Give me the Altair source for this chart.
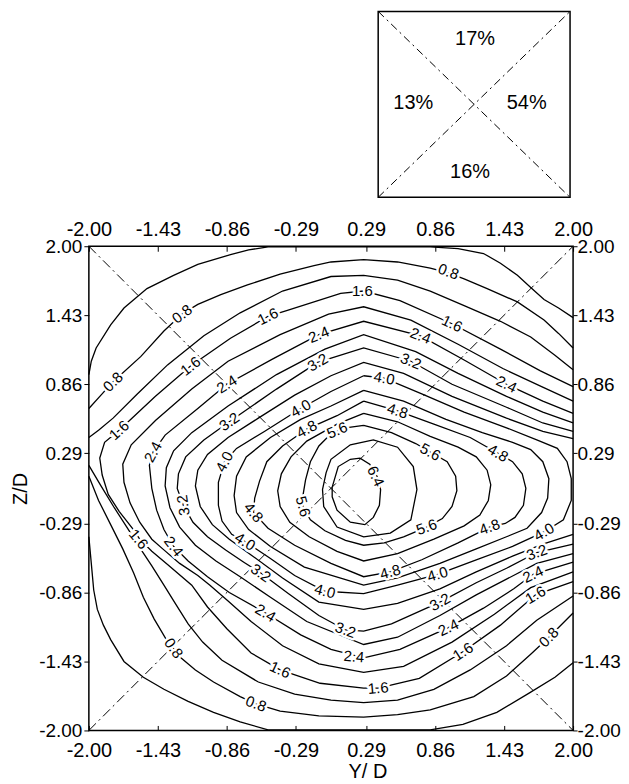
import altair as alt
import pandas as pd

FONT = "Liberation Sans"

# ---------------- axis ticks (Y/D and Z/D) ----------------
TICKS = [-2.00, -1.43, -0.86, -0.29, 0.29, 0.86, 1.43, 2.00]

# ---------------- inset: share of flow per quadrant ----------------
# extent of the inset square, read in the units of the main axes (it sits above the plot)
INSET_BOX_Y = [0.39, 1.975]
INSET_BOX_Z = [2.404, 3.94]
INSET_TEXT = ["17%", "13%", "54%", "16%"]
INSET_FX = [0.505, 0.183, 0.774, 0.479]   # position inside the square (fraction of width)
INSET_FZ = [0.853, 0.507, 0.507, 0.135]   # position inside the square (fraction of height)

# ---------------- main plot diagonals ----------------
DIAG_A = [(-2.0, 2.0), (2.0, -2.0)]
DIAG_B = [(-2.0, -2.0), (2.0, 2.0)]

# ---------------- contour lines (Y/D, Z/D) ----------------
C04_UPPER = [(2.00, 1.41), (1.88, 1.49), (1.76, 1.56), (1.65, 1.66), (1.54, 1.76), (1.40, 1.86),
             (1.26, 1.94), (1.05, 1.98), (0.82, 1.995), (0.30, 1.995), (-0.52, 1.995), (-0.68, 1.97),
             (-0.83, 1.93), (-1.10, 1.85), (-1.30, 1.76), (-1.52, 1.65), (-1.71, 1.49), (-1.82, 1.35),
             (-1.94, 1.16), (-1.98, 1.05), (-2.00, 0.94)]
C04_LOWER = [(-2.00, -0.40), (-1.98, -0.62), (-1.96, -0.84), (-1.93, -1.00), (-1.88, -1.13),
             (-1.82, -1.25), (-1.71, -1.43), (-1.55, -1.56), (-1.38, -1.66), (-1.18, -1.76),
             (-0.97, -1.85), (-0.75, -1.93), (-0.52, -1.995), (0.30, -1.995), (0.82, -1.995),
             (1.09, -1.95), (1.37, -1.85), (1.64, -1.69), (1.85, -1.56), (2.00, -1.44)]
C08_UPPER = [(2.00, 1.16), (1.88, 1.28), (1.76, 1.39), (1.54, 1.54), (1.29, 1.65), (1.10, 1.73),
             (0.97, 1.78), (0.82, 1.82), (0.55, 1.87), (0.27, 1.89), (0.00, 1.87), (-0.14, 1.84),
             (-0.42, 1.77), (-0.69, 1.68), (-0.91, 1.60), (-1.10, 1.52), (-1.23, 1.44), (-1.38, 1.30),
             (-1.57, 1.09), (-1.80, 0.88), (-1.90, 0.77), (-2.00, 0.66)]
C08_LOWER = [(-2.00, 0.10), (-1.92, -0.10), (-1.82, -0.30), (-1.72, -0.50), (-1.63, -0.70),
             (-1.55, -0.90), (-1.46, -1.08), (-1.36, -1.25), (-1.24, -1.40), (-1.12, -1.50),
             (-0.97, -1.60), (-0.75, -1.72), (-0.62, -1.78), (-0.42, -1.84), (-0.10, -1.88),
             (0.27, -1.89), (0.55, -1.87), (0.82, -1.83), (1.18, -1.72), (1.45, -1.55),
             (1.65, -1.37), (1.80, -1.23), (2.00, -1.03)]
C12_UPPER = [(2.00, 0.98), (1.85, 1.10), (1.65, 1.25), (1.40, 1.38), (1.10, 1.51), (0.82, 1.63),
             (0.55, 1.72), (0.27, 1.76), (0.00, 1.75), (-0.40, 1.63), (-0.75, 1.45), (-1.05, 1.26),
             (-1.35, 1.02), (-1.60, 0.78), (-1.80, 0.58), (-1.92, 0.48), (-2.00, 0.42)]
C12_LOWER = [(-2.00, 0.19), (-1.90, 0.02), (-1.79, -0.16), (-1.68, -0.33), (-1.58, -0.49),
             (-1.48, -0.64), (-1.38, -0.80), (-1.28, -0.96), (-1.18, -1.12), (-1.06, -1.27),
             (-0.90, -1.42), (-0.60, -1.60), (-0.30, -1.70), (0.00, -1.75), (0.27, -1.77),
             (0.55, -1.75), (0.85, -1.66), (1.15, -1.50), (1.45, -1.30), (1.70, -1.09), (2.00, -0.89)]
C16 = [(2.00, 0.84), (1.73, 0.97), (1.40, 1.15), (1.00, 1.36), (0.57, 1.55), (0.27, 1.63),
       (0.08, 1.61), (-0.36, 1.47), (-0.52, 1.42), (-0.83, 1.24), (-1.16, 1.01), (-1.45, 0.76),
       (-1.75, 0.48), (-1.87, 0.38), (-1.91, 0.25), (-1.89, 0.11), (-1.84, -0.05), (-1.75, -0.19),
       (-1.64, -0.33), (-1.58, -0.42), (-1.48, -0.52), (-1.35, -0.63), (-1.15, -0.80),
       (-1.02, -0.98), (-0.86, -1.16), (-0.66, -1.36), (-0.42, -1.50), (-0.09, -1.61),
       (0.27, -1.65), (0.39, -1.65), (0.73, -1.57), (1.09, -1.35), (1.40, -1.13), (1.69, -0.88),
       (2.00, -0.77)]
C20 = [(2.00, 0.72), (1.74, 0.84), (1.42, 0.99), (1.05, 1.19), (0.66, 1.39), (0.27, 1.50),
       (-0.02, 1.44), (-0.42, 1.27), (-0.85, 1.05), (-1.15, 0.82), (-1.45, 0.56), (-1.65, 0.36),
       (-1.72, 0.20), (-1.71, 0.05), (-1.66, -0.12), (-1.58, -0.28), (-1.48, -0.42), (-1.39, -0.50),
       (-1.25, -0.62), (-1.10, -0.72), (-1.00, -0.80), (-0.85, -0.93), (-0.66, -1.10),
       (-0.40, -1.30), (-0.10, -1.45), (0.27, -1.52), (0.60, -1.47), (1.00, -1.27), (1.35, -1.04),
       (1.65, -0.82), (2.00, -0.69)]
C24 = [(2.00, 0.62), (1.75, 0.72), (1.45, 0.86), (1.10, 1.06), (0.74, 1.26), (0.27, 1.38),
       (-0.10, 1.27), (-0.48, 1.07), (-0.86, 0.86), (-1.10, 0.66), (-1.37, 0.44), (-1.47, 0.30),
       (-1.50, 0.19), (-1.48, 0.00), (-1.44, -0.18), (-1.38, -0.34), (-1.30, -0.48), (-1.18, -0.60),
       (-1.02, -0.73), (-0.84, -0.86), (-0.54, -1.03), (-0.25, -1.21), (0.00, -1.33), (0.27, -1.40),
       (0.57, -1.33), (0.97, -1.15), (1.26, -0.99), (1.51, -0.83), (1.67, -0.71), (2.00, -0.61)]
C28 = [(2.00, 0.54), (1.75, 0.63), (1.45, 0.76), (1.05, 0.95), (0.70, 1.13), (0.27, 1.27),
       (-0.05, 1.15), (-0.45, 0.94), (-0.85, 0.68), (-1.15, 0.46), (-1.30, 0.31), (-1.36, 0.17),
       (-1.37, 0.02), (-1.33, -0.16), (-1.25, -0.32), (-1.12, -0.47), (-0.95, -0.60), (-0.75, -0.73),
       (-0.50, -0.90), (-0.20, -1.10), (0.27, -1.29), (0.55, -1.23), (0.90, -1.05), (1.20, -0.88),
       (1.45, -0.75), (1.70, -0.62), (2.00, -0.54)]
C32 = [(2.00, 0.47), (1.75, 0.54), (1.45, 0.67), (1.00, 0.86), (0.66, 1.05), (0.27, 1.16),
       (-0.11, 1.04), (-0.45, 0.82), (-0.84, 0.55), (-1.05, 0.40), (-1.20, 0.26), (-1.26, 0.12),
       (-1.27, 0.00), (-1.22, -0.14), (-1.14, -0.28), (-1.02, -0.40), (-0.87, -0.51), (-0.72, -0.61),
       (-0.58, -0.70), (-0.35, -0.87), (-0.10, -1.05), (0.12, -1.17), (0.27, -1.18), (0.50, -1.12),
       (0.90, -0.94), (1.20, -0.78), (1.45, -0.66), (1.70, -0.53), (2.00, -0.46)]
C36 = [(2.00, 0.41), (1.75, 0.47), (1.45, 0.58), (1.00, 0.76), (0.60, 0.95), (0.27, 1.04),
       (0.00, 0.93), (-0.30, 0.77), (-0.60, 0.58), (-0.85, 0.42), (-1.02, 0.28), (-1.10, 0.15),
       (-1.12, 0.02), (-1.08, -0.15), (-0.98, -0.30), (-0.84, -0.42), (-0.66, -0.55), (-0.40, -0.74),
       (-0.10, -0.94), (0.27, -1.00), (0.55, -0.95), (0.90, -0.83), (1.20, -0.69), (1.50, -0.56),
       (1.75, -0.46), (2.00, -0.38)]
C40 = [(0.27, 0.93), (0.00, 0.80), (-0.25, 0.66), (-0.55, 0.47), (-0.78, 0.33), (-0.88, 0.22),
       (-0.93, 0.05), (-0.93, -0.14), (-0.90, -0.27), (-0.82, -0.38), (-0.71, -0.44), (-0.50, -0.58),
       (-0.30, -0.72), (-0.05, -0.85), (0.27, -0.87), (0.55, -0.80), (0.88, -0.71), (1.20, -0.59),
       (1.50, -0.48), (1.76, -0.36), (1.92, -0.26), (1.985, -0.10), (1.985, 0.08), (1.95, 0.22),
       (1.87, 0.33), (1.70, 0.40), (1.45, 0.50), (1.10, 0.63), (0.75, 0.78), (0.44, 0.91), (0.27, 0.93)]
C44 = [(0.27, 0.81), (0.00, 0.68), (-0.25, 0.57), (-0.50, 0.42), (-0.70, 0.26), (-0.78, 0.10),
       (-0.80, -0.06), (-0.78, -0.20), (-0.68, -0.34), (-0.50, -0.48), (-0.22, -0.65), (0.27, -0.80),
       (0.55, -0.74), (0.90, -0.62), (1.20, -0.50), (1.45, -0.40), (1.62, -0.33), (1.74, -0.20),
       (1.79, -0.08), (1.80, 0.08), (1.75, 0.22), (1.65, 0.32), (1.50, 0.38), (1.25, 0.46),
       (0.95, 0.57), (0.60, 0.72), (0.27, 0.81)]
C48 = [(0.27, 0.72), (0.05, 0.60), (-0.20, 0.49), (-0.40, 0.35), (-0.53, 0.22), (-0.59, 0.06),
       (-0.63, -0.08), (-0.64, -0.20), (-0.52, -0.33), (-0.30, -0.47), (0.00, -0.62), (0.27, -0.73),
       (0.49, -0.69), (0.75, -0.59), (1.05, -0.45), (1.31, -0.32), (1.44, -0.29), (1.52, -0.24),
       (1.59, -0.14), (1.61, 0.00), (1.58, 0.12), (1.50, 0.22), (1.38, 0.29), (1.15, 0.42),
       (0.85, 0.53), (0.55, 0.64), (0.27, 0.72)]
C52 = [(0.27, 0.62), (0.05, 0.53), (-0.20, 0.39), (-0.33, 0.26), (-0.41, 0.12), (-0.44, -0.02),
       (-0.42, -0.15), (-0.34, -0.28), (-0.18, -0.40), (0.05, -0.52), (0.27, -0.60), (0.55, -0.54),
       (0.85, -0.42), (1.10, -0.31), (1.23, -0.22), (1.30, -0.10), (1.32, 0.03), (1.29, 0.15),
       (1.20, 0.26), (1.05, 0.34), (0.82, 0.43), (0.55, 0.55), (0.27, 0.62)]
C56 = [(0.27, 0.52), (0.12, 0.50), (0.00, 0.45), (-0.10, 0.35), (-0.17, 0.22), (-0.21, 0.07),
       (-0.23, -0.05), (-0.23, -0.16), (-0.17, -0.26), (-0.05, -0.35), (0.12, -0.43), (0.27, -0.47),
       (0.44, -0.45), (0.60, -0.40), (0.79, -0.32), (0.92, -0.25), (1.00, -0.15), (1.04, -0.02),
       (1.03, 0.10), (0.96, 0.22), (0.82, 0.30), (0.70, 0.37), (0.50, 0.46), (0.27, 0.52)]
C60 = [(-0.07, -0.01), (-0.04, 0.13), (0.00, 0.24), (0.16, 0.36), (0.35, 0.40), (0.55, 0.34),
       (0.68, 0.18), (0.71, -0.01), (0.66, -0.26), (0.49, -0.37), (0.27, -0.40), (0.05, -0.32),
       (-0.06, -0.15), (-0.07, -0.01)]
C64 = [(0.01, 0.01), (0.06, 0.18), (0.16, 0.24), (0.24, 0.25), (0.32, 0.20), (0.38, 0.10),
       (0.41, -0.01), (0.40, -0.14), (0.35, -0.24), (0.28, -0.30), (0.16, -0.28), (0.05, -0.18),
       (0.01, -0.07), (0.01, 0.01)]

CONTOURS = [("0.4a", C04_UPPER), ("0.4b", C04_LOWER), ("0.8a", C08_UPPER), ("0.8b", C08_LOWER),
            ("1.2a", C12_UPPER), ("1.2b", C12_LOWER), ("1.6", C16), ("2.0", C20), ("2.4", C24),
            ("2.8", C28), ("3.2", C32), ("3.6", C36), ("4.0", C40), ("4.4", C44), ("4.8", C48),
            ("5.2", C52), ("5.6", C56), ("6.0", C60), ("6.4", C64)]

# ---------------- contour labels: (Y/D, Z/D, rotation) ----------------
LABELS_08 = [(0.97, 1.79, 20), (-1.23, 1.44, 322), (-1.80, 0.88, 316), (-1.30, -1.32, 55),
             (-0.62, -1.78, 20), (1.80, -1.23, 315)]
LABELS_16 = [(0.26, 1.63, 0), (1.00, 1.36, 26), (-0.52, 1.42, 334), (-1.16, 1.01, 322),
             (-1.75, 0.48, 318), (-1.59, -0.42, 50), (-0.42, -1.50, 25), (0.39, -1.65, 355),
             (1.09, -1.35, 327), (1.69, -0.88, 330)]
LABELS_24 = [(0.74, 1.26, 21), (1.45, 0.86, 26), (-0.10, 1.27, 338), (-0.86, 0.86, 328),
             (-1.47, 0.30, 298), (-1.30, -0.48, 52), (-0.54, -1.03, 31), (0.19, -1.39, 5),
             (0.97, -1.15, 334), (1.67, -0.71, 335)]
LABELS_32 = [(0.66, 1.05, 22), (-0.11, 1.04, 330), (-0.84, 0.55, 325), (-1.22, -0.14, 262),
             (-0.58, -0.70, 35), (0.12, -1.17, 19), (0.90, -0.94, 331), (1.70, -0.53, 340)]
LABELS_40 = [(0.44, 0.91, 10), (-0.25, 0.66, 330), (-0.88, 0.22, 298), (-0.71, -0.44, 32),
             (-0.05, -0.85, 15), (0.88, -0.71, 343), (1.76, -0.36, 330)]
LABELS_48 = [(0.55, 0.64, 18), (-0.20, 0.49, 331), (-0.64, -0.20, 50), (0.49, -0.69, 345),
             (1.31, -0.32, 340), (1.38, 0.29, 30)]
LABELS_56 = [(0.05, 0.48, 337), (0.82, 0.30, 28), (-0.23, -0.15, 75), (0.79, -0.32, 340)]
LABELS_64 = [(0.37, 0.10, 65)]

LABEL_GROUPS = [("0.8", LABELS_08), ("1.6", LABELS_16), ("2.4", LABELS_24), ("3.2", LABELS_32),
                ("4.0", LABELS_40), ("4.8", LABELS_48), ("5.6", LABELS_56), ("6.4", LABELS_64)]

# ---------------- tables ----------------
contour_df = pd.DataFrame(
    [{"seg": name, "i": i, "Y": y, "Z": z}
     for name, pts in CONTOURS for i, (y, z) in enumerate(pts)])
label_df = pd.DataFrame(
    [{"t": txt, "Y": y, "Z": z, "a": a} for txt, pts in LABEL_GROUPS for (y, z, a) in pts])
diag_df = pd.DataFrame(
    [{"d": name, "i": i, "Y": y, "Z": z}
     for name, pts in [("a", DIAG_A), ("b", DIAG_B)] for i, (y, z) in enumerate(pts)])

y0, y1 = INSET_BOX_Y
z0, z1 = INSET_BOX_Z
box_df = pd.DataFrame({"Y": [y0], "Y2": [y1], "Z": [z0], "Z2": [z1]})
inset_diag_df = pd.DataFrame({
    "d": ["a", "a", "b", "b"], "i": [0, 1, 0, 1],
    "Y": [y0, y1, y0, y1], "Z": [z0, z1, z1, z0]})
inset_txt_df = pd.DataFrame({
    "t": INSET_TEXT,
    "Y": [y0 + f * (y1 - y0) for f in INSET_FX],
    "Z": [z0 + f * (z1 - z0) for f in INSET_FZ]})

# ---------------- scales & axes ----------------
xs = alt.Scale(domain=[-2, 2], nice=False, zero=False)
ys = alt.Scale(domain=[-2, 2], nice=False, zero=False)
label_expr = "(datum.value < 0 ? '-' : '') + format(abs(datum.value), '.2f')"
ax = dict(values=TICKS, labelExpr=label_expr, domain=False, grid=False, ticks=True,
          tickColor="black", tickWidth=1, labelFont=FONT,
          labelColor="black", labelFlush=False, labelOverlap=False, titleFont=FONT,
          titleFontSize=20, titleFontWeight="normal", titleColor="black")

x_bottom = alt.Axis(orient="bottom", offset=-5, tickSize=5, labelFontSize=20, labelPadding=10,
                    title="Y/ D", titleX=279, titlePadding=1, **ax)
x_top = alt.Axis(orient="top", offset=-5, tickSize=5, labelFontSize=20, labelPadding=7,
                 title=None, **ax)
y_left = alt.Axis(orient="left", tickSize=5, labelFontSize=19, labelPadding=2, title="Z/D",
                  titlePadding=8, **ax)
y_right = alt.Axis(orient="right", tickSize=4, labelFontSize=19, labelPadding=0, title=None, **ax)


def XY(axis_x=None, axis_y=None):
    return dict(x=alt.X("Y:Q", scale=xs, axis=axis_x), y=alt.Y("Z:Q", scale=ys, axis=axis_y))


lines = alt.Chart(contour_df).mark_line(color="black", strokeWidth=1.3).encode(
    detail="seg:N", order="i:Q", **XY(x_bottom, y_left))

diags = alt.Chart(diag_df).mark_line(color="black", strokeWidth=1,
                                     strokeDash=[10, 4, 2, 4]).encode(
    detail="d:N", order="i:Q", **XY(x_top, y_right))

halo = alt.Chart(label_df).mark_text(font=FONT, fontSize=15, fill="white", stroke="white",
                                     strokeWidth=5, strokeJoin="round").encode(
    text=alt.Text("t:N"), angle=alt.Angle("a:Q", scale=None), **XY())

labels = alt.Chart(label_df).mark_text(font=FONT, fontSize=15, color="black").encode(
    text=alt.Text("t:N"), angle=alt.Angle("a:Q", scale=None), **XY())

# inset square drawn above the plot area
box = alt.Chart(box_df).mark_rect(fillOpacity=0, stroke="black", strokeWidth=1.5,
                                  clip=False).encode(
    x=alt.X("Y:Q", scale=xs, axis=None), x2="Y2:Q",
    y=alt.Y("Z:Q", scale=ys, axis=None), y2="Z2:Q")
inset_diags = alt.Chart(inset_diag_df).mark_line(color="black", strokeWidth=1,
                                                 strokeDash=[8, 4, 2, 4], clip=False).encode(
    detail="d:N", order="i:Q", **XY())
inset_text = alt.Chart(inset_txt_df).mark_text(font=FONT, fontSize=20, color="black",
                                               clip=False).encode(
    text=alt.Text("t:N"), **XY())

chart = alt.layer(lines, diags, halo, labels, box, inset_diags, inset_text).resolve_axis(
    x="independent", y="independent"
).properties(
    width=485, height=485,
    padding={"left": 2, "top": 0, "right": 0, "bottom": 0},
    background="white",
).configure_view(stroke="black", strokeWidth=1.5)

chart.save("out.html", embed_options={"renderer": "svg", "actions": False})
